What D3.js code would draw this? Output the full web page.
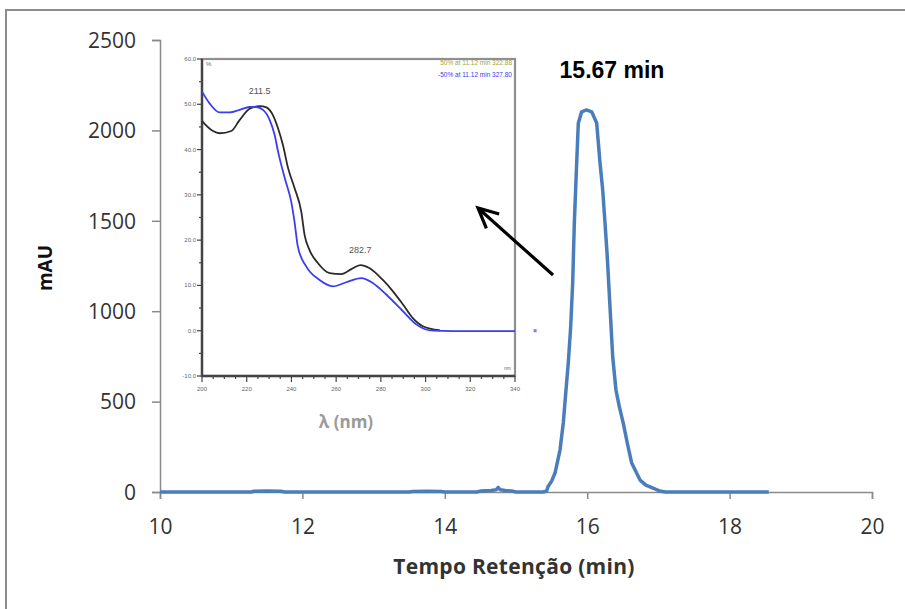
<!DOCTYPE html>
<html>
<head>
<meta charset="utf-8">
<script src="https://cdn.jsdelivr.net/npm/d3@7"></script>
<style>
  html, body { margin: 0; padding: 0; background: #fff; }
  svg { display: block; }
</style>
</head>
<body>
<svg id="chart" width="905" height="609"></svg>
<script>
// Chromatogram (retention time in min, absorbance in mAU)
const retTime = [10, 11.28, 11.32, 11.5, 11.7, 11.75, 13.5, 13.55, 13.75, 13.95, 14.0,
  14.45, 14.5, 14.65, 14.72, 14.75, 14.78, 14.85, 14.95, 15.0, 15.38, 15.43, 15.449, 15.5,
  15.548, 15.618, 15.664, 15.702, 15.734, 15.768, 15.796, 15.819, 15.852, 15.875, 15.922,
  15.99, 16.063, 16.133, 16.18, 16.218, 16.25, 16.282, 16.32, 16.358, 16.404, 16.451,
  16.507, 16.563, 16.625, 16.742, 16.824, 16.924, 17.02, 17.1, 18.55];
const absorb = [0, 0, 4, 5, 4, 0, 0, 3, 4, 3, 0,
  0, 5, 8, 12, 25, 12, 8, 5, 0, 0, 5, 29, 60,
  105, 232, 382, 564, 713, 914, 1156, 1486, 1818, 2039, 2103,
  2113, 2103, 2041, 1820, 1670, 1488, 1301, 1025, 748, 564, 472,
  380, 271, 160, 66, 38, 22, 5, 0, 0];
const xTicks = [10, 12, 14, 16, 18, 20];
const yTicks = [0, 500, 1000, 1500, 2000, 2500];

// Peak annotation and pointer (data coordinates)
const peakLabel = "15.67 min";
const arrowFrom = [15.52, 1200];
const arrowTo = [14.466, 1571];

// UV spectra of the peak (wavelength in nm, absorbance in %)
const specBlackNm = [200, 204.9, 207.9, 213.1, 216.8, 221.3, 225.8, 228.8, 231.7, 234, 236.2,
  238.5, 241.4, 244.4, 245.9, 248.1, 251.9, 257.1, 262.3, 266.8, 270.8, 275, 280.9, 285.4,
  289.9, 294.3, 298.8, 306.3];
const specBlackVal = [46.3, 44.1, 43.6, 44.1, 46.5, 49.0, 49.6, 49.3, 47.6, 44.7, 41,
  35.9, 31.5, 26.3, 21.1, 17.8, 14.9, 12.7, 12.5, 13.6, 14.5, 13.8, 11.2, 8.7,
  5.8, 2.8, 1.0, 0.1];
const specBlueNm = [200, 203.4, 207.9, 212.4, 216.8, 221.3, 224.3, 227.3, 230.3, 232.5, 234,
  237, 239.9, 241.4, 242.9, 246.6, 252.6, 258.6, 264.5, 271.2, 276.5, 282.4, 289.9, 295.8,
  303.3, 312.2, 340];
const specBlueVal = [52.8, 50.2, 48.2, 48.2, 48.75, 49.4, 49.4, 48.75, 46.5, 43.2, 39.6,
  33.7, 28.5, 24, 18.5, 14.2, 11.2, 9.8, 10.7, 11.6, 10.5, 8.0, 4.3, 1.4,
  0.0, -0.1, -0.1];
const strayBlue = [[349, 0]];
const specXTicks = [200, 220, 240, 260, 280, 300, 320, 340];
const specYTicks = [-10, 0, 10, 20, 30, 40, 50, 60];
const maxLabels = [
  { nm: 225.8, val: 49.6, text: "211.5" },
  { nm: 270.8, val: 14.5, text: "282.7" }
];
const specLegend = [
  { text: "50% at 11.12 min   322.88", color: "#a4a43a" },
  { text: "-50% at 11.12 min   327.80", color: "#3b3bf0" }
];

const svg = d3.select("#chart");
const font = "'Open Sans', 'DejaVu Sans', sans-serif";

// outer frame (top and left edges)
svg.append("path")
  .attr("d", "M6,609 L6,10 L905,10")
  .attr("fill", "none").attr("stroke", "#8c8c8c").attr("stroke-width", 2);

// ---------- main chromatogram ----------
const x = d3.scaleLinear().domain([10, 20]).range([160, 872]);
const y = d3.scaleLinear().domain([0, 2500]).range([492, 40]);

const xAxis = svg.append("g").attr("transform", `translate(0,${y(0)})`)
  .call(d3.axisBottom(x).tickValues(xTicks).tickSize(7).tickPadding(20).tickFormat(d3.format("d")));
const yAxis = svg.append("g").attr("transform", `translate(${x(10)},0)`)
  .call(d3.axisLeft(y).tickValues(yTicks).tickSize(8).tickPadding(16).tickFormat(d3.format("d")));
[xAxis, yAxis].forEach(g => {
  g.select(".domain").attr("stroke", "#8a8a8a").attr("stroke-width", 1.5);
  g.selectAll(".tick line").attr("stroke", "#8a8a8a").attr("stroke-width", 1.5);
  g.selectAll(".tick text").attr("fill", "#333").style("font-family", font).style("font-size", "21px");
});
yAxis.selectAll(".tick text").attr("dy", "0.35em");

const line = d3.line().x((d, i) => x(retTime[i])).y(d => y(d));
svg.append("path").datum(absorb)
  .attr("d", line)
  .attr("fill", "none").attr("stroke", "#4a7ebb").attr("stroke-width", 3.5)
  .attr("stroke-linejoin", "round");

svg.append("text").attr("x", 514).attr("y", 574).attr("text-anchor", "middle")
  .style("font-family", font).style("font-size", "21px").style("font-weight", "bold")
  .style("letter-spacing", "0.3px")
  .attr("fill", "#333").text("Tempo Retenção  (min)");
svg.append("text").attr("transform", "translate(52,268) rotate(-90)").attr("text-anchor", "middle")
  .style("font-family", font).style("font-size", "19px").style("font-weight", "bold")
  .attr("fill", "#111").text("mAU");

svg.append("text").attr("x", 612).attr("y", 78).attr("text-anchor", "middle")
  .style("font-family", "'Liberation Sans', Arial, sans-serif").style("font-size", "23px")
  .style("font-weight", "bold").attr("fill", "#000").text(peakLabel);

// ---------- inset: UV spectra ----------
const xi = d3.scaleLinear().domain([200, 340]).range([202, 515]);
const yi = d3.scaleLinear().domain([-10, 60]).range([376, 59]);
const inset = svg.append("g");
inset.append("rect").attr("x", 202).attr("y", 59).attr("width", 313).attr("height", 317)
  .attr("fill", "#fff").attr("stroke", "#8f8f8f").attr("stroke-width", 2.2);

const tiny = "'Liberation Sans', Arial, sans-serif";
// y ticks: majors with labels, minors between
const yMinor = d3.range(-5, 60, 10);
inset.selectAll(".ymaj").data(specYTicks).join("line")
  .attr("x1", 197).attr("x2", 202).attr("y1", d => yi(d)).attr("y2", d => yi(d))
  .attr("stroke", "#444").attr("stroke-width", 1.2);
inset.selectAll(".ymin").data(yMinor).join("line")
  .attr("x1", 199).attr("x2", 202).attr("y1", d => yi(d)).attr("y2", d => yi(d))
  .attr("stroke", "#444").attr("stroke-width", 1.2);
inset.selectAll(".ylab").data(specYTicks).join("text")
  .attr("x", 196).attr("y", d => yi(d) + 2).attr("text-anchor", "end")
  .style("font-family", tiny).style("font-size", "6px").attr("fill", "#666")
  .text(d => d.toFixed(1));
// x ticks
const xMinor = d3.range(205, 340, 5).filter(d => d % 20 !== 0);
inset.selectAll(".xmaj").data(specXTicks).join("line")
  .attr("x1", d => xi(d)).attr("x2", d => xi(d)).attr("y1", 376).attr("y2", 382)
  .attr("stroke", "#444").attr("stroke-width", 1.2);
inset.selectAll(".xmin").data(xMinor).join("line")
  .attr("x1", d => xi(d)).attr("x2", d => xi(d)).attr("y1", 376).attr("y2", 379)
  .attr("stroke", "#444").attr("stroke-width", 1.2);
inset.selectAll(".xlab").data(specXTicks).join("text")
  .attr("x", d => xi(d)).attr("y", 391).attr("text-anchor", "middle")
  .style("font-family", tiny).style("font-size", "6px").attr("fill", "#666")
  .text(d => d);

// dark axis lines
inset.append("path").attr("d", "M202,59 L202,376 L515,376")
  .attr("fill", "none").attr("stroke", "#444").attr("stroke-width", 2.4);

inset.append("text").attr("x", 206).attr("y", 66).style("font-family", tiny)
  .style("font-size", "6px").attr("fill", "#666").text("%");
inset.append("text").attr("x", 511).attr("y", 370).attr("text-anchor", "end").style("font-family", tiny)
  .style("font-size", "5px").attr("fill", "#666").text("nm");

const specLine = (nm) => d3.line().x((d, i) => xi(nm[i])).y(d => yi(d)).curve(d3.curveMonotoneX);
inset.append("path").datum(specBlackVal).attr("d", specLine(specBlackNm))
  .attr("fill", "none").attr("stroke", "#2a2a2a").attr("stroke-width", 1.8);
inset.append("path").datum(specBlueVal).attr("d", specLine(specBlueNm))
  .attr("fill", "none").attr("stroke", "#3c3cf2").attr("stroke-width", 1.8);
svg.selectAll(".stray").data(strayBlue).join("rect")
  .attr("x", d => xi(d[0]) - 1.5).attr("y", d => yi(d[1]) - 1.5)
  .attr("width", 3).attr("height", 3).attr("fill", "#7a7af5");

inset.selectAll(".maxlab").data(maxLabels).join("text")
  .attr("x", d => xi(d.nm)).attr("y", d => yi(d.val) - 12).attr("text-anchor", "middle")
  .style("font-family", tiny).style("font-size", "9px").attr("fill", "#555")
  .text(d => d.text);

inset.selectAll(".leg").data(specLegend).join("text")
  .attr("x", 512).attr("y", (d, i) => 65 + i * 12).attr("text-anchor", "end")
  .style("font-family", tiny).style("font-size", "6.5px").attr("fill", d => d.color)
  .text(d => d.text);

svg.append("text").attr("x", 346).attr("y", 428).attr("text-anchor", "middle")
  .style("font-family", font).style("font-size", "17px").style("font-weight", "bold")
  .attr("fill", "#9a9a9a").text("λ (nm)");

// pointer arrow from the peak into the spectrum inset (drawn on top)
const ax0 = x(arrowFrom[0]), ay0 = y(arrowFrom[1]);
const ax1 = x(arrowTo[0]), ay1 = y(arrowTo[1]);
const ang = Math.atan2(ay1 - ay0, ax1 - ax0);
const headLen = 22, headSpread = 0.45;
const h1 = [ax1 - headLen * Math.cos(ang - headSpread), ay1 - headLen * Math.sin(ang - headSpread)];
const h2 = [ax1 - headLen * Math.cos(ang + headSpread), ay1 - headLen * Math.sin(ang + headSpread)];
svg.append("path")
  .attr("d", `M${ax0},${ay0} L${ax1},${ay1} M${h1[0]},${h1[1]} L${ax1},${ay1} L${h2[0]},${h2[1]}`)
  .attr("fill", "none").attr("stroke", "#000").attr("stroke-width", 3.2)
  .attr("stroke-linecap", "butt").attr("stroke-linejoin", "miter");
</script>
</body>
</html>
